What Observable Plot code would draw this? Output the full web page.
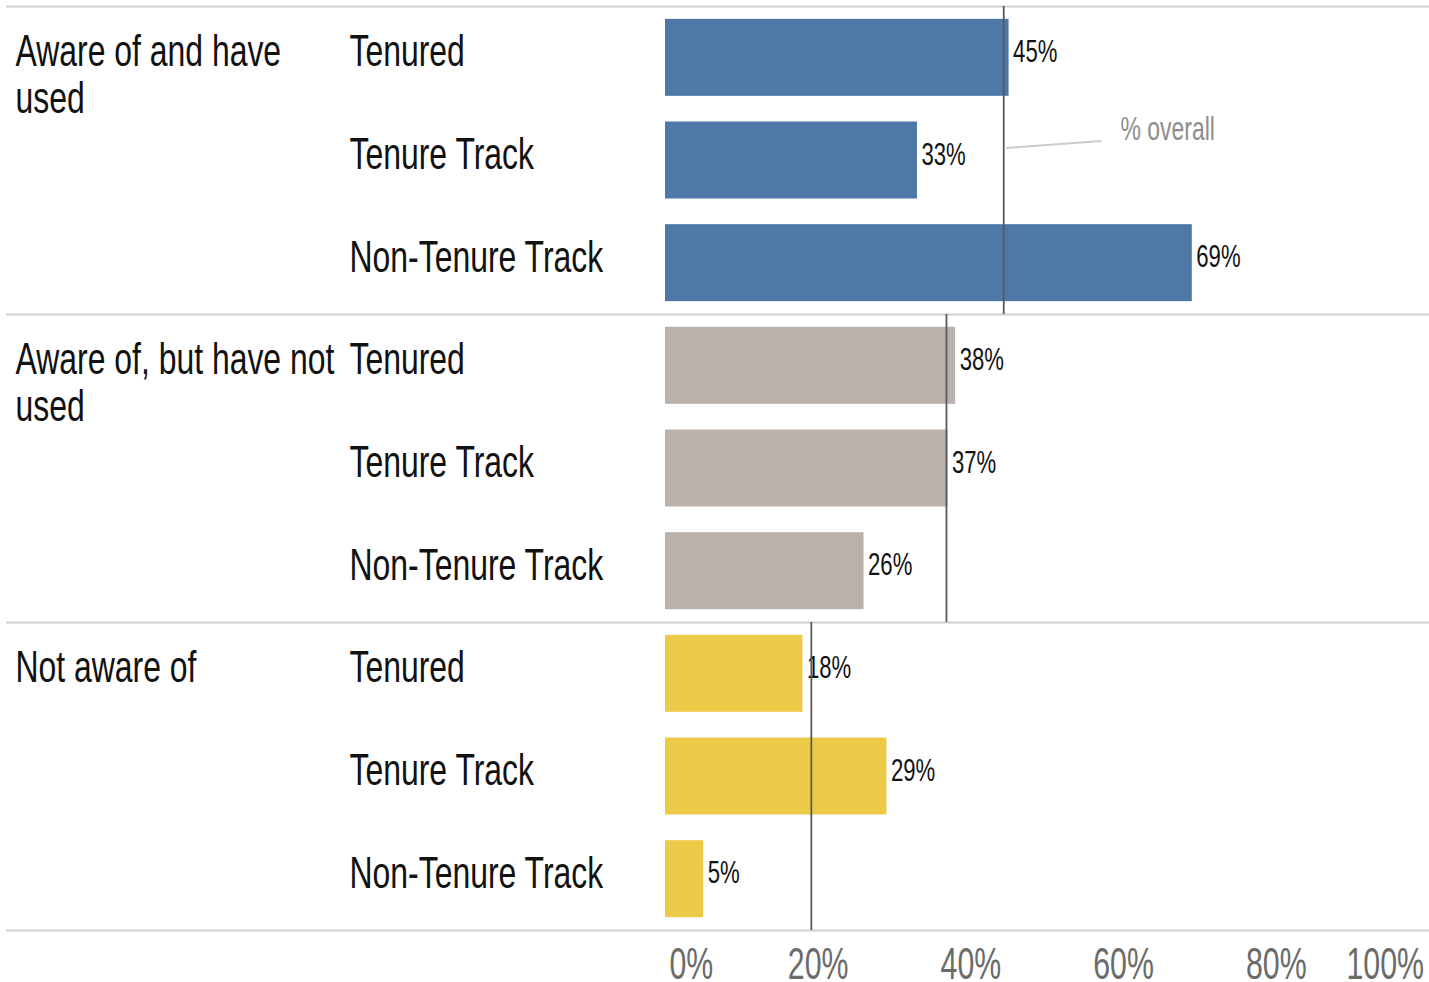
<!DOCTYPE html>
<html><head><meta charset="utf-8">
<script src="https://cdn.jsdelivr.net/npm/d3@7"></script>
<script src="https://cdn.jsdelivr.net/npm/@observablehq/plot@0.6"></script>
<style>html,body{margin:0;padding:0;background:#fff;} #chart svg{display:block;}</style>
</head><body><div id="chart"></div>
<script>
// ---- data ----
const groups = ["Aware of and have used", "Aware of, but have not used", "Not aware of"];
const groupLabels = ["Aware of and have\nused", "Aware of, but have not\nused", "Not aware of"];
const tenureTypes = ["Tenured", "Tenure Track", "Non-Tenure Track"];
const valuesAwareUsed = [45, 33, 69];
const valuesAwareNotUsed = [38, 37, 26];
const valuesNotAware = [18, 29, 5];
const overallPct = [44.3, 36.8, 19.1];
const groupColors = ["#4e79a7", "#bab0ac", "#edc948"];
const xTicks = [0, 20, 40, 60, 80, 100];
const xTickLabels = ["0%", "20%", "40%", "60%", "80%", "100%"];
const annotationText = "% overall";

// ---- build table ----
const seriesValues = [valuesAwareUsed, valuesAwareNotUsed, valuesNotAware];
const rows = groups.flatMap((g, gi) => tenureTypes.map((t, ti) => ({
  group: g, gi, type: t, row: gi * 3 + ti, value: seriesValues[gi][ti]
})));
const overall = groups.map((g, gi) => ({group: g, gi, value: overallPct[gi]}));

const TALL = 1.18;                 // glyphs are drawn taller than wide (condensed look)
const SX = 0.82 / TALL;            // horizontal squeeze applied to every text
const fs = (n) => n * TALL;
const LABEL_FS = fs(38);
const W = 1429, H = 982;
const FONT = "'Liberation Sans', Arial, sans-serif";

const plot = Plot.plot({
  width: W, height: H,
  marginLeft: 6, marginRight: 0, marginTop: 0, marginBottom: 0,
  style: {fontFamily: FONT, background: "#fff"},
  x: {domain: [0, 100], range: [665, 1428.5], axis: null},
  y: {domain: [0, 9], range: [6, 930], axis: null},
  color: {domain: groups, range: groupColors},
  marks: [
    Plot.ruleY([0, 3, 6, 9], {stroke: "#d0d0d0", strokeWidth: 2.2}),
    Plot.rectX(rows, {x1: 0, x2: "value", y1: d => d.row + 0.125, y2: d => d.row + 0.875, fill: "group"}),
    Plot.text(rows, {x: "value", y: d => d.row + 0.539, text: d => d.value + "%", dx: 4,
      textAnchor: "start", lineAnchor: "bottom", fontSize: fs(27), fill: "#111"}),
    Plot.ruleX(overall, {x: "value", y1: d => d.gi * 3, y2: d => d.gi * 3 + 3, stroke: "#5a5a5a", strokeWidth: 1.8}),
    // annotation
    Plot.link([overall[0]], {x1: d => d.value + 0.3, y1: 1.379, x2: 57.1, y2: 1.31, stroke: "#cccccc", strokeWidth: 2}),
    Plot.text([annotationText], {x: 59.6, y: 1.305, text: d => d, textAnchor: "start", lineAnchor: "bottom", fontSize: fs(28), fill: "#8e8e8e"}),
    // row labels
    Plot.text(rows, {frameAnchor: "left", dx: 343, y: d => d.row + 0.583, text: "type",
      textAnchor: "start", lineAnchor: "bottom", fontSize: LABEL_FS, fill: "#111"}),
    // group labels
    Plot.text(groupLabels, {frameAnchor: "left", dx: 9, y: (d, i) => i * 3 + 0.583 - 0.71 * 1.04 * LABEL_FS / 102.67, text: d => d,
      textAnchor: "start", lineAnchor: "top", lineHeight: 1.04, fontSize: LABEL_FS, fill: "#111"}),
    // x tick labels
    Plot.text([xTicks[0]], {x: d => d, y: 9.475, text: () => xTickLabels[0], dx: 4,
      textAnchor: "start", lineAnchor: "bottom", fontSize: fs(37), fill: "#6b6b6b"}),
    Plot.text(xTicks.slice(1, -1), {x: d => d, y: 9.475, text: (d, i) => xTickLabels[i + 1],
      textAnchor: "middle", lineAnchor: "bottom", fontSize: fs(37), fill: "#6b6b6b"}),
    Plot.text([xTicks[xTicks.length - 1]], {x: d => d, y: 9.475, text: () => xTickLabels[xTickLabels.length - 1], dx: -5,
      textAnchor: "end", lineAnchor: "bottom", fontSize: fs(37), fill: "#6b6b6b"})
  ]
});
// condensed glyphs: squeeze each text horizontally around its own anchor
d3.select(plot).selectAll("text").each(function () {
  let el = this, size = null;
  while (el && el !== plot && size == null) {
    if (el.getAttribute && el.getAttribute("font-size")) size = +el.getAttribute("font-size");
    el = el.parentNode;
  }
  const k = size && Math.abs(size - LABEL_FS) < 0.5 ? SX * 1.025 : SX;
  const t = this.getAttribute("transform") || "";
  this.setAttribute("transform", (t + ` scale(${k},1)`).trim());
});
document.getElementById("chart").appendChild(plot);
</script>
</body></html>
